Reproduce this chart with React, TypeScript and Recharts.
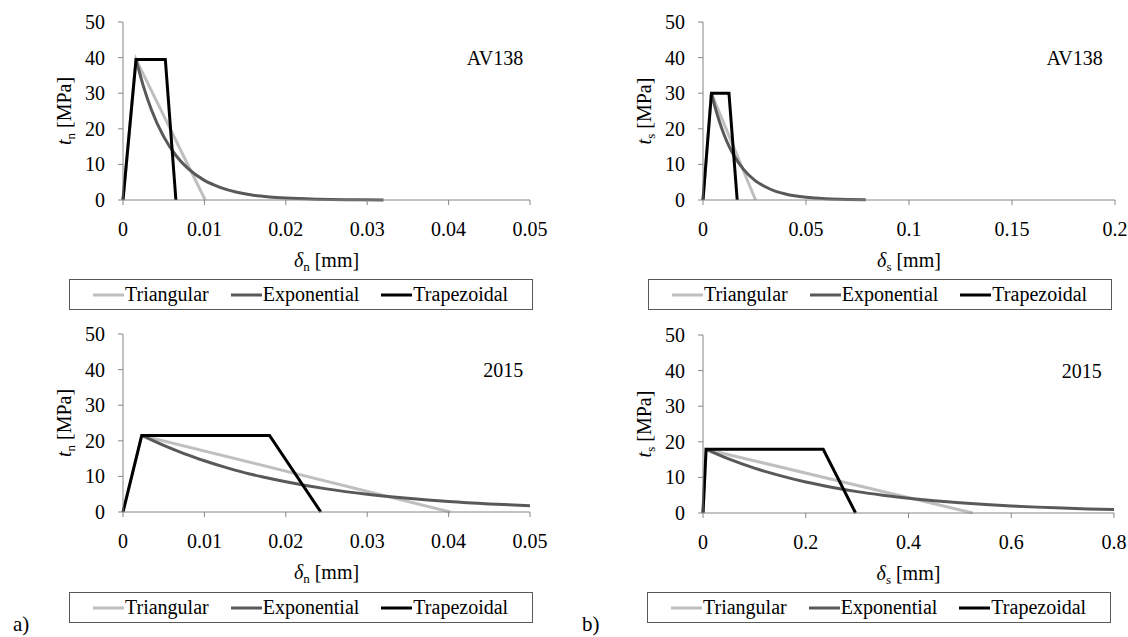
import { LineChart, Line, XAxis, YAxis, ReferenceDot, Legend, Label } from 'recharts';

type Pt = { x: number; y: number };

const yTicks = [0, 10, 20, 30, 40, 50];
const xTicksNormal = [0, 0.01, 0.02, 0.03, 0.04, 0.05];
const xTicksShearAV = [0, 0.05, 0.1, 0.15, 0.2];
const xTicksShear2015 = [0, 0.2, 0.4, 0.6, 0.8];

const seriesNames = ['Triangular', 'Exponential', 'Trapezoidal'];
const seriesColors = ['#BFBFBF', '#595959', '#000000'];

// AV138 - normal
const triNormalAV: Pt[] = [{ x: 0, y: 0 }, { x: 0.0016, y: 39.5 }, { x: 0.0101, y: 0 }];
const expNormalAV: Pt[] = [
  { x: 0.0016, y: 39.5 }, { x: 0.0025, y: 32.0 }, { x: 0.0035, y: 25.3 }, { x: 0.005, y: 17.8 },
  { x: 0.0065, y: 12.5 }, { x: 0.008, y: 8.8 }, { x: 0.01, y: 5.5 }, { x: 0.012, y: 3.5 },
  { x: 0.014, y: 2.2 }, { x: 0.016, y: 1.35 }, { x: 0.018, y: 0.85 }, { x: 0.02, y: 0.53 },
  { x: 0.024, y: 0.21 }, { x: 0.028, y: 0.08 }, { x: 0.032, y: 0.03 },
];
const trapNormalAV: Pt[] = [{ x: 0, y: 0 }, { x: 0.0016, y: 39.5 }, { x: 0.0052, y: 39.5 }, { x: 0.0065, y: 0 }];

// AV138 - shear
const triShearAV: Pt[] = [{ x: 0, y: 0 }, { x: 0.0041, y: 30 }, { x: 0.0255, y: 0 }];
const expShearAV: Pt[] = [
  { x: 0.0041, y: 30 }, { x: 0.006, y: 25.8 }, { x: 0.008, y: 22.0 }, { x: 0.01, y: 18.7 },
  { x: 0.0125, y: 15.3 }, { x: 0.015, y: 12.5 }, { x: 0.02, y: 8.4 }, { x: 0.025, y: 5.6 },
  { x: 0.03, y: 3.8 }, { x: 0.035, y: 2.5 }, { x: 0.04, y: 1.7 }, { x: 0.05, y: 0.76 },
  { x: 0.06, y: 0.34 }, { x: 0.07, y: 0.15 }, { x: 0.079, y: 0.07 },
];
const trapShearAV: Pt[] = [{ x: 0, y: 0 }, { x: 0.0041, y: 30 }, { x: 0.0126, y: 30 }, { x: 0.0166, y: 0 }];

// 2015 - normal
const triNormal2015: Pt[] = [{ x: 0, y: 0 }, { x: 0.0023, y: 21.5 }, { x: 0.0402, y: 0 }];
const expNormal2015: Pt[] = [
  { x: 0.0023, y: 21.5 }, { x: 0.005, y: 18.7 }, { x: 0.0075, y: 16.4 }, { x: 0.01, y: 14.4 },
  { x: 0.0125, y: 12.6 }, { x: 0.015, y: 11.0 }, { x: 0.0175, y: 9.7 }, { x: 0.02, y: 8.5 },
  { x: 0.025, y: 6.5 }, { x: 0.03, y: 5.0 }, { x: 0.035, y: 3.86 }, { x: 0.04, y: 2.96 },
  { x: 0.045, y: 2.28 }, { x: 0.05, y: 1.75 },
];
const trapNormal2015: Pt[] = [{ x: 0, y: 0 }, { x: 0.0023, y: 21.5 }, { x: 0.018, y: 21.5 }, { x: 0.0243, y: 0 }];

// 2015 - shear
const triShear2015: Pt[] = [{ x: 0, y: 0 }, { x: 0.006, y: 17.9 }, { x: 0.525, y: 0 }];
const expShear2015: Pt[] = [
  { x: 0.006, y: 17.9 }, { x: 0.05, y: 15.2 }, { x: 0.1, y: 12.6 }, { x: 0.15, y: 10.5 },
  { x: 0.2, y: 8.7 }, { x: 0.25, y: 7.25 }, { x: 0.3, y: 6.0 }, { x: 0.35, y: 5.0 },
  { x: 0.4, y: 4.16 }, { x: 0.45, y: 3.46 }, { x: 0.5, y: 2.87 }, { x: 0.55, y: 2.39 },
  { x: 0.6, y: 1.98 }, { x: 0.65, y: 1.65 }, { x: 0.7, y: 1.37 }, { x: 0.75, y: 1.14 },
  { x: 0.8, y: 0.95 },
];
const trapShear2015: Pt[] = [{ x: 0, y: 0 }, { x: 0.006, y: 17.9 }, { x: 0.234, y: 17.9 }, { x: 0.297, y: 0 }];

const FONT = "'Liberation Serif', 'Times New Roman', Times, serif";
const AXIS_GREY = '#868686';
const serif = { fontFamily: FONT };

// x tick: label centred under the tick
const XTick = ({ x, y, payload }: any) => (
  <text x={x} y={y} dy={15} textAnchor="middle" fontSize={20} fill="#000" style={serif}>
    {payload.value}
  </text>
);

// y tick: right aligned, vertically centred
const YTick = ({ x, y, payload }: any) => (
  <text x={x} y={y} dy={7} textAnchor="end" fontSize={20} fill="#000" style={serif}>
    {payload.value}
  </text>
);

const XTitle = ({ viewBox, sub }: any) => {
  const cx = viewBox.x + viewBox.width / 2;
  const by = viewBox.y + 67;
  return (
    <text x={cx} y={by} textAnchor="middle" fontSize={20} fill="#000" style={serif}>
      <tspan fontStyle="italic">δ</tspan>
      <tspan fontSize={13} dy={4}>{sub}</tspan>
      <tspan dy={-4}>{' [mm]'}</tspan>
    </text>
  );
};

const YTitle = ({ viewBox, sub }: any) => {
  const cx = viewBox.x + viewBox.width - 52;
  const cy = viewBox.y + viewBox.height / 2;
  return (
    <text x={cx} y={cy} transform={`rotate(-90 ${cx} ${cy})`} textAnchor="middle" fontSize={20} fill="#000" style={serif}>
      <tspan fontStyle="italic">t</tspan>
      <tspan fontSize={13} dy={4}>{sub}</tspan>
      <tspan dy={-4}>{' [MPa]'}</tspan>
    </text>
  );
};

const LegendBox = () => (
  <div
    style={{
      boxSizing: 'border-box', width: 464, height: 31, border: '1px solid #595959',
      display: 'flex', alignItems: 'center', paddingLeft: 23, gap: 22, fontSize: 20,
      fontFamily: FONT, color: '#000', background: '#fff',
    }}
  >
    {seriesNames.map((n, i) => (
      <span key={n} style={{ display: 'flex', alignItems: 'center' }}>
        <svg width={31} height={4}>
          <line x1={0} y1={2} x2={31} y2={2} stroke={seriesColors[i]} strokeWidth={3} />
        </svg>
        <span style={{ marginLeft: 1 }}>{n}</span>
      </span>
    ))}
  </div>
);

interface PanelProps {
  left: number;
  top: number;
  width: number;
  height: number;
  plotRight: number;
  xMax: number;
  xTicks: number[];
  sub: string;
  tag: string;
  tagX: number;
  tri: Pt[];
  expo: Pt[];
  trap: Pt[];
  legendLeft: number;
  legendTop: number;
}

function Panel(p: PanelProps) {
  const series = [p.tri, p.expo, p.trap];
  return (
    <div style={{ position: 'absolute', left: p.left, top: p.top }}>
      <LineChart
        width={p.width}
        height={p.height}
        margin={{ top: 22, right: p.width - p.plotRight, left: 63, bottom: p.height - 200 - 60 }}
        style={serif}
      >
        <XAxis
          type="number"
          dataKey="x"
          domain={[0, p.xMax]}
          ticks={p.xTicks}
          height={60}
          stroke={AXIS_GREY}
          tickSize={5}
          tickMargin={16}
          tick={<XTick />}
          interval={0}
        >
          <Label content={(lp: any) => <XTitle {...lp} sub={p.sub} />} />
        </XAxis>
        <YAxis
          type="number"
          domain={[0, 50]}
          ticks={yTicks}
          width={60}
          stroke={AXIS_GREY}
          tickSize={5}
          tickMargin={13}
          tick={<YTick />}
          interval={0}
        >
          <Label content={(lp: any) => <YTitle {...lp} sub={p.sub} />} />
        </YAxis>
        <ReferenceDot
          x={p.tagX}
          y={40}
          r={1}
          fill="none"
          stroke="none"
          label={{ value: p.tag, position: 'center', fontSize: 20, fill: '#000', style: serif }}
        />
        <Legend
          verticalAlign="middle"
          align="center"
          layout="horizontal"
          wrapperStyle={{ left: p.legendLeft, top: p.legendTop, width: 464, height: 31 }}
          content={() => <LegendBox />}
        />
        {series.map((d, i) => (
          <Line
            key={seriesNames[i]}
            name={seriesNames[i]}
            data={d}
            dataKey="y"
            type={i === 1 ? 'monotone' : 'linear'}
            stroke={seriesColors[i]}
            strokeWidth={3}
            dot={false}
            activeDot={false}
            isAnimationActive={false}
          />
        ))}
      </LineChart>
    </div>
  );
}

export default function App() {
  return (
    <div
      style={{
        position: 'absolute', left: 0, top: 0, width: 1128, height: 637,
        background: '#fff', fontFamily: FONT, overflow: 'hidden',
      }}
    >
      <Panel
        left={0} top={0} width={560} height={315} plotRight={530}
        xMax={0.05} xTicks={xTicksNormal} sub="n" tag="AV138" tagX={0.0457}
        tri={triNormalAV} expo={expNormalAV} trap={trapNormalAV}
        legendLeft={69} legendTop={279}
      />
      <Panel
        left={580} top={0} width={548} height={315} plotRight={535}
        xMax={0.2} xTicks={xTicksShearAV} sub="s" tag="AV138" tagX={0.1804}
        tri={triShearAV} expo={expShearAV} trap={trapShearAV}
        legendLeft={68} legendTop={279}
      />
      <Panel
        left={0} top={312} width={560} height={325} plotRight={530}
        xMax={0.05} xTicks={xTicksNormal} sub="n" tag="2015" tagX={0.0467}
        tri={triNormal2015} expo={expNormal2015} trap={trapNormal2015}
        legendLeft={69} legendTop={280}
      />
      <Panel
        left={580} top={313} width={548} height={324} plotRight={534}
        xMax={0.8} xTicks={xTicksShear2015} sub="s" tag="2015" tagX={0.737}
        tri={triShear2015} expo={expShear2015} trap={trapShear2015}
        legendLeft={67} legendTop={279}
      />
      <div style={{ position: 'absolute', left: 13, top: 612, fontSize: 21 }}>a)</div>
      <div style={{ position: 'absolute', left: 582, top: 612, fontSize: 21 }}>b)</div>
    </div>
  );
}
